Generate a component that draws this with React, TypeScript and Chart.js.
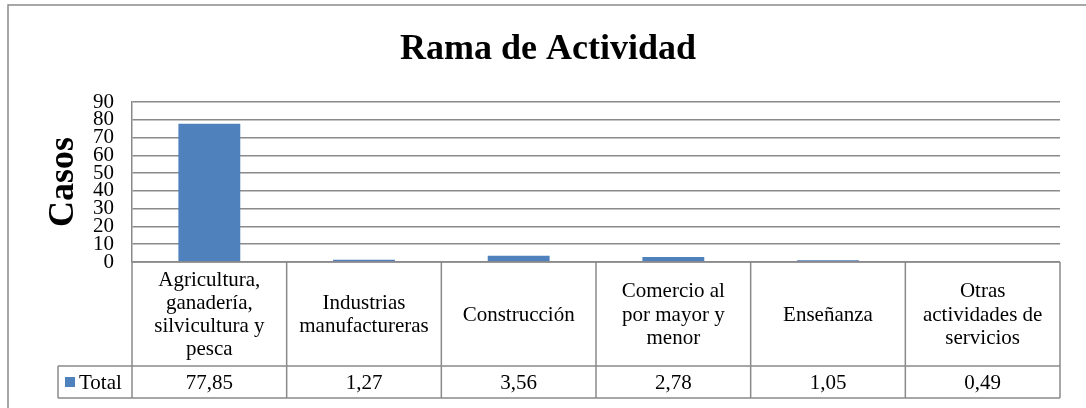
import { useEffect, useRef } from "react";
import { Chart, registerables } from "chart.js";

Chart.register(...registerables);

const chartTitle = "Rama de Actividad";
const yAxisTitle = "Casos";
const seriesName = "Total";
const categories: string[][] = [
  ["Agricultura,", "ganadería,", "silvicultura y", "pesca"],
  ["Industrias", "manufactureras"],
  ["Construcción"],
  ["Comercio al", "por mayor y", "menor"],
  ["Enseñanza"],
  ["Otras", "actividades de", "servicios"],
];
const totals = [77.85, 1.27, 3.56, 2.78, 1.05, 0.49];
const yMin = 0;
const yMax = 90;
const yStep = 10;

const FONT = '"Liberation Serif", "Times New Roman", serif';
const BAR_COLOR = "#4F81BD";
const LINE_COLOR = "#8a8a8a";

const formatValue = (v: number) => v.toFixed(2).replace(".", ",");

const frameAndTablePlugin = {
  id: "frameAndTable",
  afterDraw(chart: any) {
    const { ctx, chartArea, scales } = chart;
    const xs = scales.x;
    const n = categories.length;
    const step = n > 1 ? xs.getPixelForValue(1) - xs.getPixelForValue(0) : chartArea.width;
    const half = step / 2;
    const left = chartArea.left;
    const right = chartArea.right;
    const top = chartArea.bottom;
    const labelRowH = 104;
    const valueRowH = 32;
    const legendW = 74;
    const midY = top + labelRowH;
    const botY = midY + valueRowH;

    ctx.save();
    // outer frame
    ctx.strokeStyle = LINE_COLOR;
    ctx.lineWidth = 1.5;
    ctx.strokeRect(8, 5, 1200, 600);

    // table lines
    ctx.beginPath();
    ctx.moveTo(left, top);
    ctx.lineTo(right, top);
    ctx.moveTo(left - legendW, midY);
    ctx.lineTo(right, midY);
    ctx.moveTo(left - legendW, botY);
    ctx.lineTo(right, botY);
    ctx.moveTo(left - legendW, midY);
    ctx.lineTo(left - legendW, botY);
    for (let i = 0; i <= n; i++) {
      const xb = i < n ? xs.getPixelForValue(i) - half : xs.getPixelForValue(n - 1) + half;
      ctx.moveTo(xb, top);
      ctx.lineTo(xb, botY);
    }
    ctx.stroke();

    // category labels
    ctx.fillStyle = "#000";
    ctx.font = `21px ${FONT}`;
    ctx.textAlign = "center";
    ctx.textBaseline = "middle";
    const lh = 23.3;
    categories.forEach((lines, i) => {
      const cx = xs.getPixelForValue(i);
      const cy = top + labelRowH / 2 + 1;
      const start = cy - ((lines.length - 1) * lh) / 2;
      lines.forEach((line, j) => ctx.fillText(line, cx, start + j * lh));
      ctx.fillText(formatValue(totals[i]), cx, midY + valueRowH / 2 + 1);
    });

    // legend cell
    ctx.fillStyle = BAR_COLOR;
    ctx.fillRect(left - legendW + 7, midY + 11, 10, 10);
    ctx.fillStyle = "#000";
    ctx.textAlign = "left";
    ctx.fillText(seriesName, left - legendW + 21, midY + valueRowH / 2 + 1);
    ctx.restore();
  },
};

export default function App() {
  const canvasRef = useRef<HTMLCanvasElement | null>(null);

  useEffect(() => {
    if (!canvasRef.current) return;
    const chart = new Chart(canvasRef.current, {
      type: "bar",
      data: {
        labels: categories.map((c) => c.join(" ")),
        datasets: [
          {
            label: seriesName,
            data: totals,
            backgroundColor: BAR_COLOR,
            borderWidth: 0,
            categoryPercentage: 1,
            barPercentage: 0.4,
          },
        ],
      },
      options: {
        responsive: false,
        animation: false,
        layout: { padding: { left: 36, right: 26, top: 0, bottom: 146 } },
        plugins: {
          legend: { display: false },
          tooltip: { enabled: false },
          title: {
            display: true,
            text: chartTitle,
            color: "#000",
            font: { family: FONT, size: 36, weight: "bold", lineHeight: 1.2 },
            padding: { top: 28, bottom: 31 },
          },
        },
        scales: {
          x: {
            display: false,
            offset: true,
          },
          y: {
            min: yMin,
            max: yMax,
            ticks: {
              stepSize: yStep,
              autoSkip: false,
              padding: 18,
              color: "#000",
              font: { family: FONT, size: 21, lineHeight: 1 },
            },
            grid: { color: LINE_COLOR, lineWidth: 1.5, drawTicks: false },
            border: { display: true, color: LINE_COLOR, width: 1.5 },
            title: {
              display: true,
              text: yAxisTitle,
              color: "#000",
              font: { family: FONT, size: 36, weight: "bold", lineHeight: 1.2 },
              padding: { top: 6, bottom: 0 },
            },
            afterFit: (s: any) => {
              s.width = 96;
            },
          },
        },
      },
      plugins: [frameAndTablePlugin],
    } as any);
    return () => chart.destroy();
  }, []);

  return (
    <div style={{ position: "absolute", left: 0, top: 0, width: 1086, height: 408 }}>
      <canvas ref={canvasRef} width={1086} height={408} />
    </div>
  );
}
